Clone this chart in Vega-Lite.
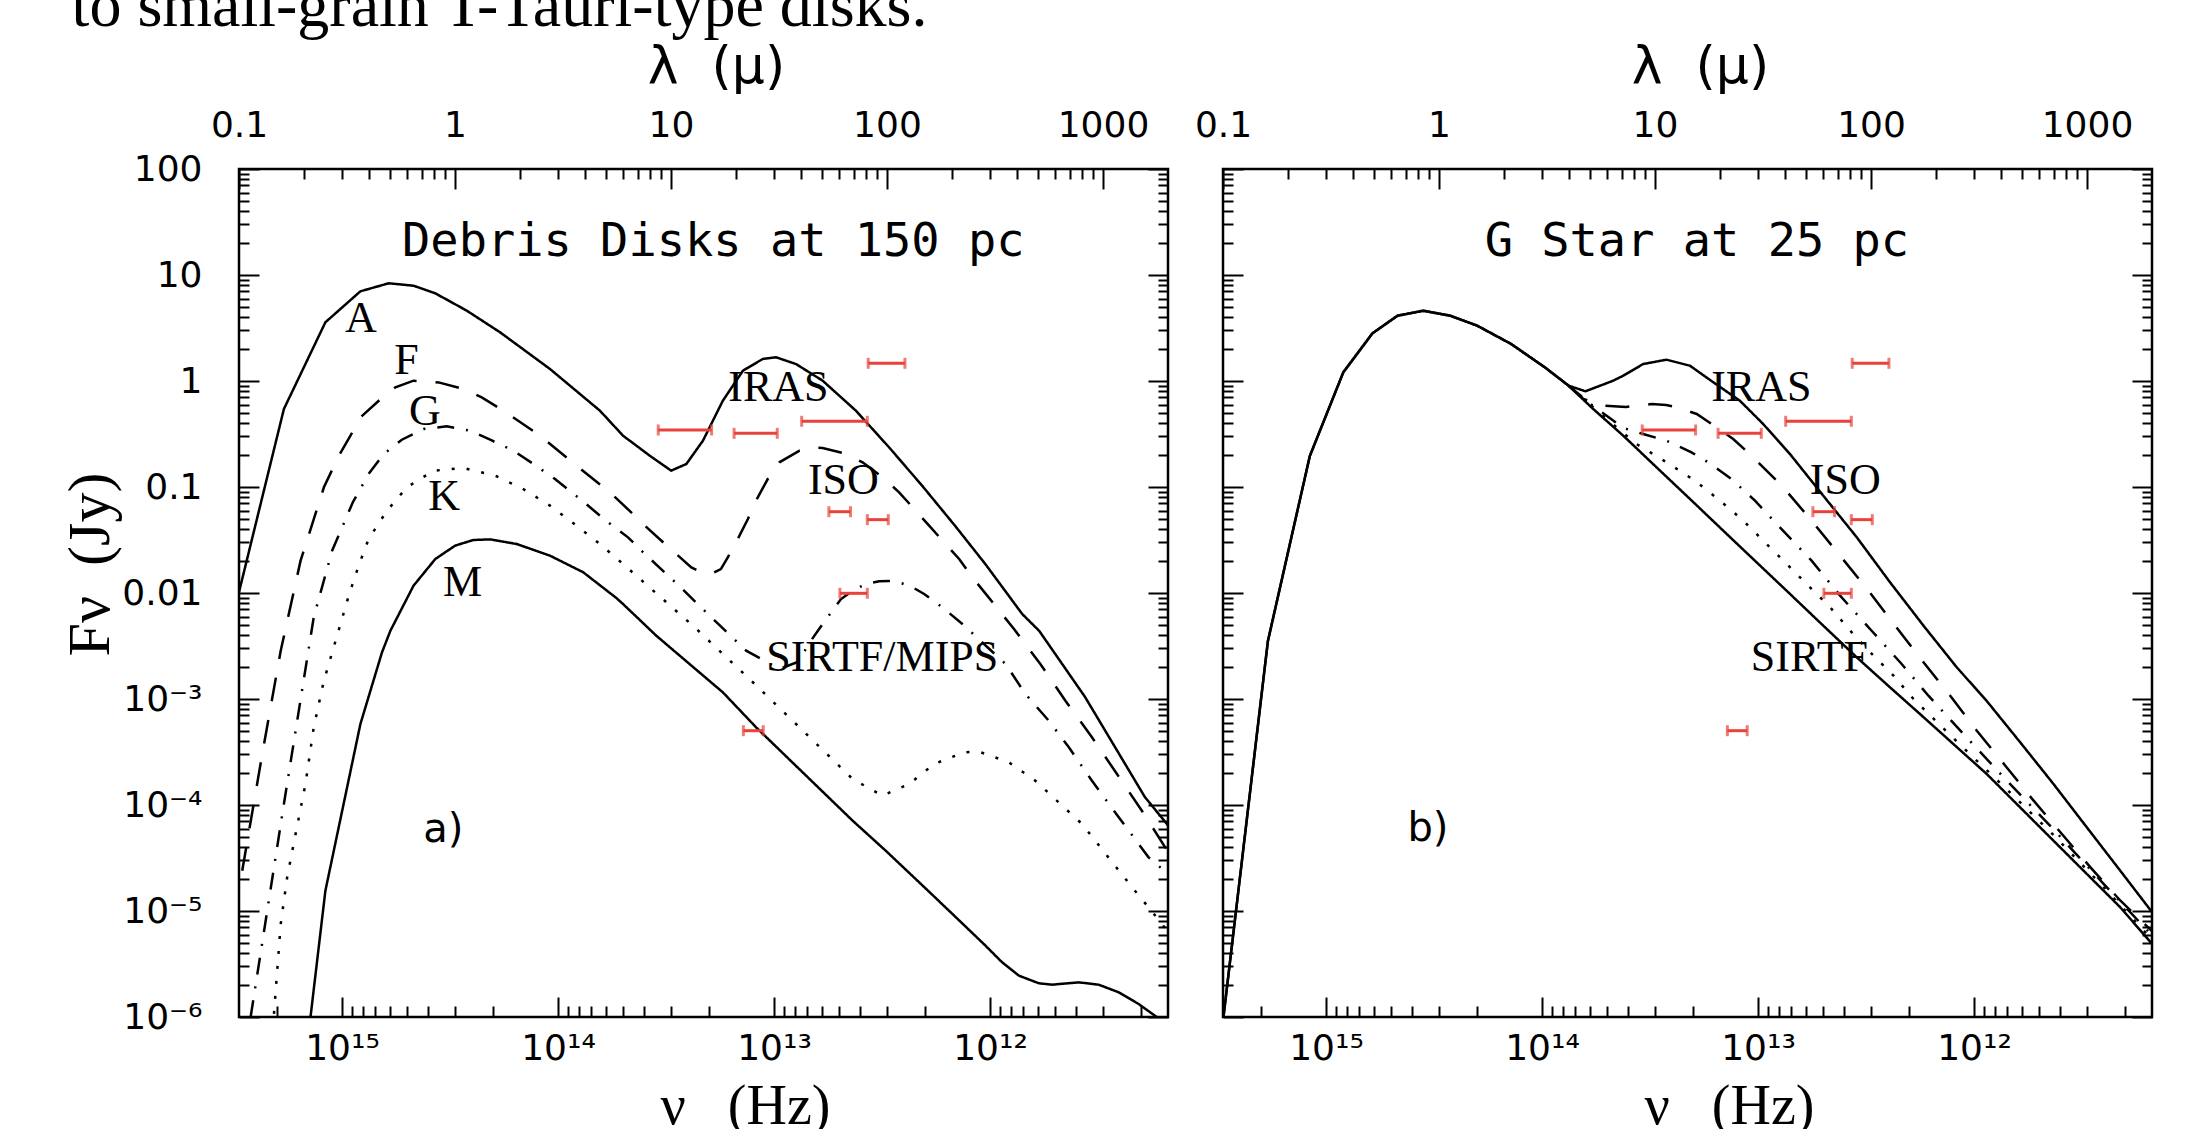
{
"$schema":"https://vega.github.io/schema/vega-lite/v6.json",
"background":"white",
"padding":{"left":59,"top":-26,"right":10,"bottom":0},
"title":{"text":"to small-grain T-Tauri-type disks.","anchor":"start","frame":"bounds","font":"Liberation Serif","fontSize":64,"fontWeight":"normal","color":"black","offset":0,"dx":12},
"datasets":{
"curves":[
{"p":"a","c":"A","s":"solid","lam":0.1,"flux":0.0102},{"p":"a","c":"A","s":"solid","lam":0.1614,"flux":0.5445},{"p":"a","c":"A","s":"solid","lam":0.2512,"flux":3.581},{"p":"a","c":"A","s":"solid","lam":0.3648,"flux":7.015},{"p":"a","c":"A","s":"solid","lam":0.4932,"flux":8.356},{"p":"a","c":"A","s":"solid","lam":0.6427,"flux":7.925},{"p":"a","c":"A","s":"solid","lam":0.811,"flux":6.714},{"p":"a","c":"A","s":"solid","lam":1.135,"flux":4.603},{"p":"a","c":"A","s":"solid","lam":1.618,"flux":2.877},{"p":"a","c":"A","s":"solid","lam":2.754,"flux":1.297},{"p":"a","c":"A","s":"solid","lam":4.688,"flux":0.5248},{"p":"a","c":"A","s":"solid","lam":5.998,"flux":0.3048},{"p":"a","c":"A","s":"solid","lam":7.98,"flux":0.1972},{"p":"a","c":"A","s":"solid","lam":10.02,"flux":0.1426},{"p":"a","c":"A","s":"solid","lam":11.78,"flux":0.1648},{"p":"a","c":"A","s":"solid","lam":14.06,"flux":0.2735},{"p":"a","c":"A","s":"solid","lam":17.38,"flux":0.6516},{"p":"a","c":"A","s":"solid","lam":21.53,"flux":1.25},{"p":"a","c":"A","s":"solid","lam":26.61,"flux":1.614},{"p":"a","c":"A","s":"solid","lam":30.62,"flux":1.675},{"p":"a","c":"A","s":"solid","lam":37.93,"flux":1.445},{"p":"a","c":"A","s":"solid","lam":50.35,"flux":1.007},{"p":"a","c":"A","s":"solid","lam":71.78,"flux":0.5248},{"p":"a","c":"A","s":"solid","lam":102.3,"flux":0.2366},{"p":"a","c":"A","s":"solid","lam":145.9,"flux":0.1021},{"p":"a","c":"A","s":"solid","lam":207,"flux":0.04285},{"p":"a","c":"A","s":"solid","lam":285.1,"flux":0.01879},{"p":"a","c":"A","s":"solid","lam":422.7,"flux":0.006339},{"p":"a","c":"A","s":"solid","lam":507,"flux":0.004385},{"p":"a","c":"A","s":"solid","lam":826,"flux":0.001045},{"p":"a","c":"A","s":"solid","lam":1563,"flux":1.189e-4},{"p":"a","c":"A","s":"solid","lam":1977,"flux":6.622e-5},{"p":"a","c":"A","s":"solid","lam":2000,"flux":6.37e-5},
{"p":"a","c":"F","s":"dashed","lam":0.1035,"flux":2.399e-5},{"p":"a","c":"F","s":"dashed","lam":0.1276,"flux":2.884e-4},{"p":"a","c":"F","s":"dashed","lam":0.156,"flux":2.858e-3},{"p":"a","c":"F","s":"dashed","lam":0.1928,"flux":0.02018},{"p":"a","c":"F","s":"dashed","lam":0.2472,"flux":0.09931},{"p":"a","c":"F","s":"dashed","lam":0.2897,"flux":0.1972},{"p":"a","c":"F","s":"dashed","lam":0.3281,"flux":0.3048},{"p":"a","c":"F","s":"dashed","lam":0.3648,"flux":0.4539},{"p":"a","c":"F","s":"dashed","lam":0.4436,"flux":0.6516},{"p":"a","c":"F","s":"dashed","lam":0.5297,"flux":0.873},{"p":"a","c":"F","s":"dashed","lam":0.6427,"flux":1.007},{"p":"a","c":"F","s":"dashed","lam":0.8395,"flux":0.9705},{"p":"a","c":"F","s":"dashed","lam":1.094,"flux":0.8414},{"p":"a","c":"F","s":"dashed","lam":1.33,"flux":0.7015},{"p":"a","c":"F","s":"dashed","lam":1.675,"flux":0.5248},{"p":"a","c":"F","s":"dashed","lam":2.477,"flux":0.3048},{"p":"a","c":"F","s":"dashed","lam":3.656,"flux":0.1589},{"p":"a","c":"F","s":"dashed","lam":5.212,"flux":0.08913},{"p":"a","c":"F","s":"dashed","lam":6.668,"flux":0.05559},{"p":"a","c":"F","s":"dashed","lam":7.278,"flux":0.04645},{"p":"a","c":"F","s":"dashed","lam":9.484,"flux":0.02838},{"p":"a","c":"F","s":"dashed","lam":12.42,"flux":0.01746},{"p":"a","c":"F","s":"dashed","lam":14.06,"flux":0.01545},{"p":"a","c":"F","s":"dashed","lam":15.35,"flux":0.0151},{"p":"a","c":"F","s":"dashed","lam":17.02,"flux":0.01683},{"p":"a","c":"F","s":"dashed","lam":18.32,"flux":0.02173},{"p":"a","c":"F","s":"dashed","lam":20.37,"flux":0.03228},{"p":"a","c":"F","s":"dashed","lam":22.7,"flux":0.04989},{"p":"a","c":"F","s":"dashed","lam":25.23,"flux":0.07998},{"p":"a","c":"F","s":"dashed","lam":28.05,"flux":0.1189},{"p":"a","c":"F","s":"dashed","lam":31.77,"flux":0.171},{"p":"a","c":"F","s":"dashed","lam":39.36,"flux":0.2203},{"p":"a","c":"F","s":"dashed","lam":44.36,"flux":0.236},{"p":"a","c":"F","s":"dashed","lam":50.35,"flux":0.2333},{"p":"a","c":"F","s":"dashed","lam":63.39,"flux":0.208},{"p":"a","c":"F","s":"dashed","lam":77.09,"flux":0.171},{"p":"a","c":"F","s":"dashed","lam":95.28,"flux":0.1236},{"p":"a","c":"F","s":"dashed","lam":113.8,"flux":0.08913},{"p":"a","c":"F","s":"dashed","lam":135.8,"flux":0.0597},{"p":"a","c":"F","s":"dashed","lam":156.7,"flux":0.04315},{"p":"a","c":"F","s":"dashed","lam":183.7,"flux":0.03006},{"p":"a","c":"F","s":"dashed","lam":215.8,"flux":0.02094},{"p":"a","c":"F","s":"dashed","lam":248.3,"flux":0.01406},{"p":"a","c":"F","s":"dashed","lam":291.1,"flux":9.441e-3},{"p":"a","c":"F","s":"dashed","lam":387.3,"flux":4.571e-3},{"p":"a","c":"F","s":"dashed","lam":512.9,"flux":2.138e-3},{"p":"a","c":"F","s":"dashed","lam":669.9,"flux":9.638e-4},{"p":"a","c":"F","s":"dashed","lam":889.2,"flux":4.355e-4},{"p":"a","c":"F","s":"dashed","lam":1161,"flux":1.959e-4},{"p":"a","c":"F","s":"dashed","lam":1514,"flux":8.831e-5},{"p":"a","c":"F","s":"dashed","lam":1941,"flux":3.99e-5},{"p":"a","c":"F","s":"dashed","lam":2000,"flux":3.66e-5},
{"p":"a","c":"G","s":"dashdot","lam":0.1132,"flux":1.0e-6},{"p":"a","c":"G","s":"dashdot","lam":0.1614,"flux":1.023e-4},{"p":"a","c":"G","s":"dashdot","lam":0.2218,"flux":5.902e-3},{"p":"a","c":"G","s":"dashdot","lam":0.2698,"flux":0.02506},{"p":"a","c":"G","s":"dashdot","lam":0.3365,"flux":0.07178},{"p":"a","c":"G","s":"dashdot","lam":0.3981,"flux":0.1327},{"p":"a","c":"G","s":"dashdot","lam":0.4677,"flux":0.2046},{"p":"a","c":"G","s":"dashdot","lam":0.5675,"flux":0.2793},{"p":"a","c":"G","s":"dashdot","lam":0.7145,"flux":0.3524},{"p":"a","c":"G","s":"dashdot","lam":0.9162,"flux":0.3733},{"p":"a","c":"G","s":"dashdot","lam":1.175,"flux":0.3396},{"p":"a","c":"G","s":"dashdot","lam":1.455,"flux":0.2793},{"p":"a","c":"G","s":"dashdot","lam":1.862,"flux":0.2203},{"p":"a","c":"G","s":"dashdot","lam":2.307,"flux":0.1648},{"p":"a","c":"G","s":"dashdot","lam":2.904,"flux":0.1189},{"p":"a","c":"G","s":"dashdot","lam":3.524,"flux":0.0871},{"p":"a","c":"G","s":"dashdot","lam":5.117,"flux":0.04645},{"p":"a","c":"G","s":"dashdot","lam":6.324,"flux":0.0335},{"p":"a","c":"G","s":"dashdot","lam":7.43,"flux":0.02421},{"p":"a","c":"G","s":"dashdot","lam":10.96,"flux":0.01156},{"p":"a","c":"G","s":"dashdot","lam":15.35,"flux":5.902e-3},{"p":"a","c":"G","s":"dashdot","lam":22.28,"flux":2.858e-3},{"p":"a","c":"G","s":"dashdot","lam":31.77,"flux":1.919e-3},{"p":"a","c":"G","s":"dashdot","lam":38.64,"flux":2.234e-3},{"p":"a","c":"G","s":"dashdot","lam":44.46,"flux":3.548e-3},{"p":"a","c":"G","s":"dashdot","lam":50.35,"flux":5.105e-3},{"p":"a","c":"G","s":"dashdot","lam":61.24,"flux":8.77e-3},{"p":"a","c":"G","s":"dashdot","lam":69.34,"flux":0.01052},{"p":"a","c":"G","s":"dashdot","lam":79.8,"flux":0.01216},{"p":"a","c":"G","s":"dashdot","lam":92.04,"flux":0.01288},{"p":"a","c":"G","s":"dashdot","lam":102.3,"flux":0.01297},{"p":"a","c":"G","s":"dashdot","lam":113.8,"flux":0.01262},{"p":"a","c":"G","s":"dashdot","lam":131.2,"flux":0.01132},{"p":"a","c":"G","s":"dashdot","lam":148.6,"flux":9.795e-3},{"p":"a","c":"G","s":"dashdot","lam":180.3,"flux":7.328e-3},{"p":"a","c":"G","s":"dashdot","lam":223.4,"flux":5.105e-3},{"p":"a","c":"G","s":"dashdot","lam":281.2,"flux":3.304e-3},{"p":"a","c":"G","s":"dashdot","lam":354,"flux":2.138e-3},{"p":"a","c":"G","s":"dashdot","lam":437.5,"flux":1.114e-3},{"p":"a","c":"G","s":"dashdot","lam":561,"flux":6.237e-4},{"p":"a","c":"G","s":"dashdot","lam":695,"flux":3.499e-4},{"p":"a","c":"G","s":"dashdot","lam":889.2,"flux":1.694e-4},{"p":"a","c":"G","s":"dashdot","lam":1183,"flux":7.656e-5},{"p":"a","c":"G","s":"dashdot","lam":1626,"flux":3.206e-5},{"p":"a","c":"G","s":"dashdot","lam":2000,"flux":2.24e-5},
{"p":"a","c":"K","s":"dotted","lam":0.1452,"flux":1.072e-6},{"p":"a","c":"K","s":"dotted","lam":0.156,"flux":7.534e-6},{"p":"a","c":"K","s":"dotted","lam":0.1671,"flux":2.08e-5},{"p":"a","c":"K","s":"dotted","lam":0.1828,"flux":5.321e-5},{"p":"a","c":"K","s":"dotted","lam":0.2032,"flux":1.585e-4},{"p":"a","c":"K","s":"dotted","lam":0.2218,"flux":5.408e-4},{"p":"a","c":"K","s":"dotted","lam":0.2472,"flux":1.489e-3},{"p":"a","c":"K","s":"dotted","lam":0.2951,"flux":5.105e-3},{"p":"a","c":"K","s":"dotted","lam":0.3221,"flux":9.441e-3},{"p":"a","c":"K","s":"dotted","lam":0.3581,"flux":0.01811},{"p":"a","c":"K","s":"dotted","lam":0.3981,"flux":0.03228},{"p":"a","c":"K","s":"dotted","lam":0.4842,"flux":0.0597},{"p":"a","c":"K","s":"dotted","lam":0.5984,"flux":0.09931},{"p":"a","c":"K","s":"dotted","lam":0.7962,"flux":0.1426},{"p":"a","c":"K","s":"dotted","lam":1.094,"flux":0.151},{"p":"a","c":"K","s":"dotted","lam":1.535,"flux":0.1279},{"p":"a","c":"K","s":"dotted","lam":2.07,"flux":0.09572},{"p":"a","c":"K","s":"dotted","lam":2.754,"flux":0.06668},{"p":"a","c":"K","s":"dotted","lam":3.656,"flux":0.04315},{"p":"a","c":"K","s":"dotted","lam":4.688,"flux":0.02897},{"p":"a","c":"K","s":"dotted","lam":5.998,"flux":0.01879},{"p":"a","c":"K","s":"dotted","lam":12.88,"flux":4.742e-3},{"p":"a","c":"K","s":"dotted","lam":23.93,"flux":1.439e-3},{"p":"a","c":"K","s":"dotted","lam":38.64,"flux":5.598e-4},{"p":"a","c":"K","s":"dotted","lam":69.34,"flux":1.758e-4},{"p":"a","c":"K","s":"dotted","lam":95.28,"flux":1.225e-4},{"p":"a","c":"K","s":"dotted","lam":126.8,"flux":1.578e-4},{"p":"a","c":"K","s":"dotted","lam":165.2,"flux":2.438e-4},{"p":"a","c":"K","s":"dotted","lam":227.5,"flux":3.141e-4},{"p":"a","c":"K","s":"dotted","lam":266.7,"flux":3.184e-4},{"p":"a","c":"K","s":"dotted","lam":366.4,"flux":2.529e-4},{"p":"a","c":"K","s":"dotted","lam":486.4,"flux":1.694e-4},{"p":"a","c":"K","s":"dotted","lam":623.7,"flux":1.059e-4},{"p":"a","c":"K","s":"dotted","lam":799.8,"flux":6.622e-5},{"p":"a","c":"K","s":"dotted","lam":972.8,"flux":3.99e-5},{"p":"a","c":"K","s":"dotted","lam":1202,"flux":2.317e-5},{"p":"a","c":"K","s":"dotted","lam":1486,"flux":1.346e-5},{"p":"a","c":"K","s":"dotted","lam":1652,"flux":1.045e-5},{"p":"a","c":"K","s":"dotted","lam":1954,"flux":6.761e-6},{"p":"a","c":"K","s":"dotted","lam":2000,"flux":6.2e-6},
{"p":"a","c":"M","s":"solid","lam":0.2143,"flux":1.0e-6},{"p":"a","c":"M","s":"solid","lam":0.2512,"flux":1.556e-5},{"p":"a","c":"M","s":"solid","lam":0.3648,"flux":5.808e-4},{"p":"a","c":"M","s":"solid","lam":0.4592,"flux":2.754e-3},{"p":"a","c":"M","s":"solid","lam":0.5023,"flux":4.406e-3},{"p":"a","c":"M","s":"solid","lam":0.6427,"flux":0.01172},{"p":"a","c":"M","s":"solid","lam":0.811,"flux":0.02094},{"p":"a","c":"M","s":"solid","lam":1.002,"flux":0.02799},{"p":"a","c":"M","s":"solid","lam":1.216,"flux":0.03162},{"p":"a","c":"M","s":"solid","lam":1.455,"flux":0.03206},{"p":"a","c":"M","s":"solid","lam":1.932,"flux":0.02897},{"p":"a","c":"M","s":"solid","lam":2.754,"flux":0.02249},{"p":"a","c":"M","s":"solid","lam":3.926,"flux":0.01567},{"p":"a","c":"M","s":"solid","lam":5.585,"flux":8.97e-3},{"p":"a","c":"M","s":"solid","lam":5.998,"flux":7.87e-3},{"p":"a","c":"M","s":"solid","lam":8.551,"flux":3.954e-3},{"p":"a","c":"M","s":"solid","lam":12.19,"flux":2.138e-3},{"p":"a","c":"M","s":"solid","lam":17.38,"flux":1.156e-3},{"p":"a","c":"M","s":"solid","lam":24.77,"flux":5.408e-4},{"p":"a","c":"M","s":"solid","lam":69.34,"flux":7.112e-5},{"p":"a","c":"M","s":"solid","lam":98.63,"flux":3.707e-5},{"p":"a","c":"M","s":"solid","lam":140.9,"flux":1.866e-5},{"p":"a","c":"M","s":"solid","lam":200.9,"flux":9.376e-6},{"p":"a","c":"M","s":"solid","lam":285.8,"flux":4.71e-6},{"p":"a","c":"M","s":"solid","lam":341.2,"flux":3.281e-6},{"p":"a","c":"M","s":"solid","lam":408.3,"flux":2.455e-6},{"p":"a","c":"M","s":"solid","lam":504.7,"flux":2.08e-6},{"p":"a","c":"M","s":"solid","lam":580.8,"flux":2.018e-6},{"p":"a","c":"M","s":"solid","lam":772.7,"flux":2.123e-6},{"p":"a","c":"M","s":"solid","lam":955,"flux":2.018e-6},{"p":"a","c":"M","s":"solid","lam":1183,"flux":1.71e-6},{"p":"a","c":"M","s":"solid","lam":1462,"flux":1.327e-6},{"p":"a","c":"M","s":"solid","lam":1774,"flux":1.0e-6},{"p":"a","c":"M","s":"solid","lam":2000,"flux":6.5e-7},
{"p":"b","c":"b1","s":"solid","lam":0.1005,"flux":1.0e-6},{"p":"b","c":"b1","s":"solid","lam":0.1614,"flux":3.524e-3},{"p":"b","c":"b1","s":"solid","lam":0.2523,"flux":0.1959},{"p":"b","c":"b1","s":"solid","lam":0.3606,"flux":1.208},{"p":"b","c":"b1","s":"solid","lam":0.492,"flux":2.818},{"p":"b","c":"b1","s":"solid","lam":0.6427,"flux":4.13},{"p":"b","c":"b1","s":"solid","lam":0.8453,"flux":4.603},{"p":"b","c":"b1","s":"solid","lam":1.127,"flux":4.13},{"p":"b","c":"b1","s":"solid","lam":1.503,"flux":3.327},{"p":"b","c":"b1","s":"solid","lam":2.158,"flux":2.234},{"p":"b","c":"b1","s":"solid","lam":3.09,"flux":1.346},{"p":"b","c":"b1","s":"solid","lam":3.981,"flux":0.9036},{"p":"b","c":"b1","s":"solid","lam":4.764,"flux":0.7998},{"p":"b","c":"b1","s":"solid","lam":6.353,"flux":1.0},{"p":"b","c":"b1","s":"solid","lam":7.129,"flux":1.122},{"p":"b","c":"b1","s":"solid","lam":8.81,"flux":1.445},{"p":"b","c":"b1","s":"solid","lam":11.3,"flux":1.589},{"p":"b","c":"b1","s":"solid","lam":14.52,"flux":1.393},{"p":"b","c":"b1","s":"solid","lam":18.62,"flux":0.9727},{"p":"b","c":"b1","s":"solid","lam":24.72,"flux":0.6516},{"p":"b","c":"b1","s":"solid","lam":31.7,"flux":0.3926},{"p":"b","c":"b1","s":"solid","lam":42.17,"flux":0.2046},{"p":"b","c":"b1","s":"solid","lam":60.12,"flux":0.08279},{"p":"b","c":"b1","s":"solid","lam":85.9,"flux":0.03357},{"p":"b","c":"b1","s":"solid","lam":122.5,"flux":0.01262},{"p":"b","c":"b1","s":"solid","lam":175,"flux":4.92e-3},{"p":"b","c":"b1","s":"solid","lam":249.5,"flux":1.991e-3},{"p":"b","c":"b1","s":"solid","lam":343.6,"flux":9.572e-4},{"p":"b","c":"b1","s":"solid","lam":490.9,"flux":3.899e-4},{"p":"b","c":"b1","s":"solid","lam":699.8,"flux":1.578e-4},{"p":"b","c":"b1","s":"solid","lam":997.7,"flux":6.166e-5},{"p":"b","c":"b1","s":"solid","lam":1426,"flux":2.399e-5},{"p":"b","c":"b1","s":"solid","lam":2000,"flux":9.77e-6},
{"p":"b","c":"b2","s":"dashed","lam":3.981,"flux":0.9036},{"p":"b","c":"b2","s":"dashed","lam":4.656,"flux":0.6761},{"p":"b","c":"b2","s":"dashed","lam":5.754,"flux":0.5875},{"p":"b","c":"b2","s":"dashed","lam":7.345,"flux":0.5689},{"p":"b","c":"b2","s":"dashed","lam":9.638,"flux":0.6067},{"p":"b","c":"b2","s":"dashed","lam":11.27,"flux":0.5943},{"p":"b","c":"b2","s":"dashed","lam":12.59,"flux":0.5649},{"p":"b","c":"b2","s":"dashed","lam":15.6,"flux":0.4887},{"p":"b","c":"b2","s":"dashed","lam":19.28,"flux":0.3656},{"p":"b","c":"b2","s":"dashed","lam":23.01,"flux":0.2838},{"p":"b","c":"b2","s":"dashed","lam":27.99,"flux":0.1972},{"p":"b","c":"b2","s":"dashed","lam":39.26,"flux":0.09931},{"p":"b","c":"b2","s":"dashed","lam":53.09,"flux":0.04808},{"p":"b","c":"b2","s":"dashed","lam":71.94,"flux":0.02249},{"p":"b","c":"b2","s":"dashed","lam":97.27,"flux":0.01052},{"p":"b","c":"b2","s":"dashed","lam":129.4,"flux":4.92e-3},{"p":"b","c":"b2","s":"dashed","lam":175,"flux":2.218e-3},{"p":"b","c":"b2","s":"dashed","lam":232.8,"flux":1.074e-3},{"p":"b","c":"b2","s":"dashed","lam":309,"flux":5.023e-4},{"p":"b","c":"b2","s":"dashed","lam":418.8,"flux":2.35e-4},{"p":"b","c":"b2","s":"dashed","lam":566.2,"flux":1.099e-4},{"p":"b","c":"b2","s":"dashed","lam":765.6,"flux":5.321e-5},{"p":"b","c":"b2","s":"dashed","lam":1038,"flux":2.582e-5},{"p":"b","c":"b2","s":"dashed","lam":1429,"flux":1.25e-5},{"p":"b","c":"b2","s":"dashed","lam":2000,"flux":6.46e-6},
{"p":"b","c":"b3","s":"dashdot","lam":3.981,"flux":0.9036},{"p":"b","c":"b3","s":"dashdot","lam":5.176,"flux":0.5808},{"p":"b","c":"b3","s":"dashdot","lam":7.129,"flux":0.3606},{"p":"b","c":"b3","s":"dashdot","lam":8.81,"flux":0.3162},{"p":"b","c":"b3","s":"dashdot","lam":11.3,"flux":0.2735},{"p":"b","c":"b3","s":"dashdot","lam":14.76,"flux":0.2123},{"p":"b","c":"b3","s":"dashdot","lam":17.62,"flux":0.171},{"p":"b","c":"b3","s":"dashdot","lam":22.59,"flux":0.1189},{"p":"b","c":"b3","s":"dashdot","lam":29.04,"flux":0.0743},{"p":"b","c":"b3","s":"dashdot","lam":37.24,"flux":0.04315},{"p":"b","c":"b3","s":"dashdot","lam":53.09,"flux":0.02018},{"p":"b","c":"b3","s":"dashdot","lam":71.94,"flux":9.441e-3},{"p":"b","c":"b3","s":"dashdot","lam":100.7,"flux":4.406e-3},{"p":"b","c":"b3","s":"dashdot","lam":138.7,"flux":2.138e-3},{"p":"b","c":"b3","s":"dashdot","lam":184.5,"flux":1.074e-3},{"p":"b","c":"b3","s":"dashdot","lam":267.9,"flux":4.677e-4},{"p":"b","c":"b3","s":"dashdot","lam":410.2,"flux":1.837e-4},{"p":"b","c":"b3","s":"dashdot","lam":699.8,"flux":5.888e-5},{"p":"b","c":"b3","s":"dashdot","lam":1194,"flux":1.799e-5},{"p":"b","c":"b3","s":"dashdot","lam":2000,"flux":5.89e-6},
{"p":"b","c":"b4","s":"dotted","lam":3.981,"flux":0.9036},{"p":"b","c":"b4","s":"dotted","lam":5.754,"flux":0.4677},{"p":"b","c":"b4","s":"dotted","lam":8.204,"flux":0.2547},{"p":"b","c":"b4","s":"dotted","lam":11.51,"flux":0.1675},{"p":"b","c":"b4","s":"dotted","lam":15.31,"flux":0.1146},{"p":"b","c":"b4","s":"dotted","lam":20,"flux":0.0743},{"p":"b","c":"b4","s":"dotted","lam":25.64,"flux":0.04808},{"p":"b","c":"b4","s":"dotted","lam":32.28,"flux":0.03006},{"p":"b","c":"b4","s":"dotted","lam":40.74,"flux":0.01879},{"p":"b","c":"b4","s":"dotted","lam":51.29,"flux":0.01172},{"p":"b","c":"b4","s":"dotted","lam":64.71,"flux":7.328e-3},{"p":"b","c":"b4","s":"dotted","lam":81.47,"flux":4.256e-3},{"p":"b","c":"b4","s":"dotted","lam":100.9,"flux":2.661e-3},{"p":"b","c":"b4","s":"dotted","lam":127.1,"flux":1.66e-3},{"p":"b","c":"b4","s":"dotted","lam":157.4,"flux":1.0e-3},{"p":"b","c":"b4","s":"dotted","lam":267.9,"flux":3.451e-4},{"p":"b","c":"b4","s":"dotted","lam":410.2,"flux":1.51e-4},{"p":"b","c":"b4","s":"dotted","lam":699.8,"flux":5.212e-5},{"p":"b","c":"b4","s":"dotted","lam":1194,"flux":1.679e-5},{"p":"b","c":"b4","s":"dotted","lam":2000,"flux":5.37e-6},
{"p":"b","c":"b5","s":"solid","lam":0.1005,"flux":1.0e-6},{"p":"b","c":"b5","s":"solid","lam":0.1614,"flux":3.524e-3},{"p":"b","c":"b5","s":"solid","lam":0.2523,"flux":0.1959},{"p":"b","c":"b5","s":"solid","lam":0.3606,"flux":1.208},{"p":"b","c":"b5","s":"solid","lam":0.492,"flux":2.818},{"p":"b","c":"b5","s":"solid","lam":0.6427,"flux":4.13},{"p":"b","c":"b5","s":"solid","lam":0.8453,"flux":4.603},{"p":"b","c":"b5","s":"solid","lam":1.127,"flux":4.13},{"p":"b","c":"b5","s":"solid","lam":1.503,"flux":3.327},{"p":"b","c":"b5","s":"solid","lam":2.158,"flux":2.234},{"p":"b","c":"b5","s":"solid","lam":3.09,"flux":1.346},{"p":"b","c":"b5","s":"solid","lam":3.981,"flux":0.9036},{"p":"b","c":"b5","s":"solid","lam":5.176,"flux":0.5445},{"p":"b","c":"b5","s":"solid","lam":7.129,"flux":0.3048},{"p":"b","c":"b5","s":"solid","lam":10.16,"flux":0.1535},{"p":"b","c":"b5","s":"solid","lam":14.52,"flux":0.07709},{"p":"b","c":"b5","s":"solid","lam":20.7,"flux":0.03873},{"p":"b","c":"b5","s":"solid","lam":29.51,"flux":0.0195},{"p":"b","c":"b5","s":"solid","lam":42.17,"flux":9.795e-3},{"p":"b","c":"b5","s":"solid","lam":60.12,"flux":4.92e-3},{"p":"b","c":"b5","s":"solid","lam":85.9,"flux":2.472e-3},{"p":"b","c":"b5","s":"solid","lam":122.5,"flux":1.288e-3},{"p":"b","c":"b5","s":"solid","lam":168.7,"flux":7.211e-4},{"p":"b","c":"b5","s":"solid","lam":343.6,"flux":1.959e-4},{"p":"b","c":"b5","s":"solid","lam":699.8,"flux":4.603e-5},{"p":"b","c":"b5","s":"solid","lam":1426,"flux":1.084e-5},{"p":"b","c":"b5","s":"solid","lam":2000,"flux":4.9e-6}
],
"bars":[
{"lo":81.85,"hi":121.1,"flux":1.469},{"lo":40.27,"hi":81.1,"flux":0.4169},{"lo":19.59,"hi":31.05,"flux":0.3206},{"lo":8.73,"hi":15.42,"flux":0.3451},{"lo":53.83,"hi":67.76,"flux":0.05848},{"lo":81.1,"hi":101.4,"flux":0.0492},{"lo":60.53,"hi":81.1,"flux":0.009931},{"lo":21.63,"hi":26.73,"flux":0.0005023}
],
"labels":[
{"p":"a","k":"title","t":"Debris Disks at 150 pc","lam":15.7,"flux":15.1},
{"p":"a","k":"curve","t":"A","lam":0.3664,"flux":2.877},
{"p":"a","k":"curve","t":"F","lam":0.597,"flux":1.164},
{"p":"a","k":"curve","t":"G","lam":0.7261,"flux":0.3873},
{"p":"a","k":"curve","t":"K","lam":0.8913,"flux":0.06067},
{"p":"a","k":"curve","t":"M","lam":1.084,"flux":0.009441},
{"p":"a","k":"curve","t":"IRAS","lam":31.41,"flux":0.6516},
{"p":"a","k":"curve","t":"ISO","lam":62.81,"flux":0.0859},
{"p":"a","k":"curve","t":"SIRTF/MIPS","lam":95.06,"flux":0.001849},
{"p":"a","k":"tag","t":"a)","lam":0.8831,"flux":4.477e-5},
{"p":"b","k":"title","t":"G Star at 25 pc","lam":15.63,"flux":15.1},
{"p":"b","k":"curve","t":"IRAS","lam":31.05,"flux":0.6516},
{"p":"b","k":"curve","t":"ISO","lam":76.03,"flux":0.0859},
{"p":"b","k":"curve","t":"SIRTF","lam":51.88,"flux":0.001849},
{"p":"b","k":"tag","t":"b)","lam":0.8892,"flux":4.571e-5}
]
},
"hconcat":[
{
"width":929,"height":848,
"resolve":{"axis":{"x":"independent","y":"independent"}},
"layer":[
{"data":{"name":"curves"},"transform":[{"filter":"datum.p=='a'"}],
"mark":{"type":"line","color":"black","strokeWidth":2.5,"clip":true},
"encoding":{
"x":{"field":"lam","type":"quantitative","scale":{"type":"log","domain":[0.1,2000],"nice":false},"axis":{"orient":"top","values":[0.1,1,10,100,1000],"ticks":false,"labelExpr":"datum.value < 0.5 ? '0.1' : format(datum.value, 'd')","labelPadding":25,"title":"λ\u00a0\u00a0(μ)","titleFont":"DejaVu Sans","titleFontSize":52,"titlePadding":14,"titleX":477}},
"y":{"field":"flux","type":"quantitative","scale":{"type":"log","domain":[1e-6,100],"nice":false},"axis":{"orient":"left","values":[1e-6,1e-5,1e-4,1e-3,0.01,0.1,1,10,100],"ticks":false,"labelExpr":"datum.value > 50 ? '100' : datum.value > 5 ? '10' : datum.value > 0.5 ? '1' : datum.value > 0.05 ? '0.1' : datum.value > 0.005 ? '0.01' : datum.value > 5e-4 ? '10⁻³' : datum.value > 5e-5 ? '10⁻⁴' : datum.value > 5e-6 ? '10⁻⁵' : '10⁻⁶'","labelPadding":37,"title":"Fν\u00a0\u00a0(Jy)","titleFont":"Liberation Serif","titleFontSize":60,"titlePadding":0,"titleY":395}},
"strokeDash":{"field":"s","type":"nominal","scale":{"domain":["solid","dashed","dashdot","dotted"],"range":[[1,0],[24,19],[17,12,2,12],[3,12]]},"legend":null},
"detail":{"field":"c","type":"nominal"}}},
{"data":{"name":"bars"},"mark":{"type":"rule","color":"#e8433a","strokeWidth":3},
"encoding":{"x":{"field":"lo","type":"quantitative","axis":null},"x2":{"field":"hi"},"y":{"field":"flux","type":"quantitative","axis":null}}},
{"data":{"name":"bars"},"mark":{"type":"tick","orient":"vertical","color":"#e8433a","thickness":3,"size":11},
"encoding":{"x":{"field":"lo","type":"quantitative","axis":null},"y":{"field":"flux","type":"quantitative","axis":null}}},
{"data":{"name":"bars"},"mark":{"type":"tick","orient":"vertical","color":"#e8433a","thickness":3,"size":11},
"encoding":{"x":{"field":"hi","type":"quantitative","axis":null},"y":{"field":"flux","type":"quantitative","axis":null}}},
{"data":{"name":"labels"},"transform":[{"filter":"datum.p=='a' && datum.k=='title'"}],"mark":{"type":"text","font":"DejaVu Sans Mono","fontSize":47,"align":"center","baseline":"alphabetic","color":"black"},
"encoding":{"x":{"field":"lam","type":"quantitative","axis":null},"y":{"field":"flux","type":"quantitative","axis":null},"text":{"field":"t"}}},
{"data":{"name":"labels"},"transform":[{"filter":"datum.p=='a' && datum.k=='curve'"}],"mark":{"type":"text","font":"Liberation Serif","fontSize":44,"align":"center","baseline":"alphabetic","color":"black"},
"encoding":{"x":{"field":"lam","type":"quantitative","axis":null},"y":{"field":"flux","type":"quantitative","axis":null},"text":{"field":"t"}}},
{"data":{"name":"labels"},"transform":[{"filter":"datum.p=='a' && datum.k=='tag'"}],"mark":{"type":"text","font":"DejaVu Sans","fontSize":40,"align":"center","baseline":"alphabetic","color":"black"},
"encoding":{"x":{"field":"lam","type":"quantitative","axis":null},"y":{"field":"flux","type":"quantitative","axis":null},"text":{"field":"t"}}},
{"data":{"values":[{"v":1}]},"mark":{"type":"point","opacity":0},
"encoding":{"x":{"field":"v","type":"quantitative","axis":{"orient":"top","values":[0.1,1,10,100,1000],"tickSize":-20,"labels":false,"title":null}},
"y":{"field":"v","type":"quantitative","axis":{"orient":"left","values":[1e-6,1e-5,1e-4,1e-3,0.01,0.1,1,10,100],"tickSize":-20,"labels":false,"title":null}}}},
{"data":{"values":[{"v":1}]},"mark":{"type":"point","opacity":0},
"encoding":{"x":{"field":"v","type":"quantitative","axis":{"orient":"top","values":[0.2,0.3,0.4,0.5,0.6,0.7,0.8,0.9,2,3,4,5,6,7,8,9,20,30,40,50,60,70,80,90,200,300,400,500,600,700,800,900],"tickSize":-10,"labels":false,"title":null}},
"y":{"field":"v","type":"quantitative","axis":{"orient":"left","values":[2e-6,3e-6,4e-6,5e-6,6e-6,7e-6,8e-6,9e-6,2e-5,3e-5,4e-5,5e-5,6e-5,7e-5,8e-5,9e-5,2e-4,3e-4,4e-4,5e-4,6e-4,7e-4,8e-4,9e-4,0.002,0.003,0.004,0.005,0.006,0.007,0.008,0.009,0.02,0.03,0.04,0.05,0.06,0.07,0.08,0.09,0.2,0.3,0.4,0.5,0.6,0.7,0.8,0.9,2,3,4,5,6,7,8,9,20,30,40,50,60,70,80,90],"tickSize":-10,"labels":false,"title":null}}}},
{"data":{"values":[{"v":1}]},"mark":{"type":"point","opacity":0},
"encoding":{"x":{"field":"v","type":"quantitative","axis":{"orient":"bottom","values":[0.2998,2.998,29.98,299.8],"ticks":false,"labelExpr":"datum.value < 1 ? '10¹⁵' : datum.value < 10 ? '10¹⁴' : datum.value < 100 ? '10¹³' : '10¹²'","labelPadding":14,"title":"ν\u00a0\u00a0\u00a0(Hz)","titleFont":"Liberation Serif","titleFontSize":56,"titlePadding":13,"titleX":506}},
"y":{"field":"v","type":"quantitative","axis":{"orient":"right","values":[1e-6,1e-5,1e-4,1e-3,0.01,0.1,1,10,100],"tickSize":-20,"labels":false,"title":null}}}},
{"data":{"values":[{"v":1}]},"mark":{"type":"point","opacity":0},
"encoding":{"x":{"field":"v","type":"quantitative","axis":{"orient":"bottom","values":[0.2998,2.998,29.98,299.8],"tickSize":-20,"labels":false,"title":null}},
"y":{"field":"v","type":"quantitative","axis":{"orient":"right","values":[2e-6,3e-6,4e-6,5e-6,6e-6,7e-6,8e-6,9e-6,2e-5,3e-5,4e-5,5e-5,6e-5,7e-5,8e-5,9e-5,2e-4,3e-4,4e-4,5e-4,6e-4,7e-4,8e-4,9e-4,0.002,0.003,0.004,0.005,0.006,0.007,0.008,0.009,0.02,0.03,0.04,0.05,0.06,0.07,0.08,0.09,0.2,0.3,0.4,0.5,0.6,0.7,0.8,0.9,2,3,4,5,6,7,8,9,20,30,40,50,60,70,80,90],"tickSize":-10,"labels":false,"title":null}}}},
{"data":{"values":[{"v":1}]},"mark":{"type":"point","opacity":0},
"encoding":{"x":{"field":"v","type":"quantitative","axis":{"orient":"bottom","values":[0.1499,1.499,0.9993,0.7495,0.5996,0.4997,0.4283,0.3748,0.3331,14.99,9.993,7.495,5.996,4.997,4.283,3.748,3.331,149.9,99.93,74.95,59.96,49.97,42.83,37.48,33.31,1499,999.3,749.5,599.6,499.7,428.3,374.8,333.1],"tickSize":-11,"labels":false,"title":null}}}}
]
},
{
"width":929,"height":848,
"resolve":{"axis":{"x":"independent","y":"independent"}},
"layer":[
{"data":{"name":"curves"},"transform":[{"filter":"datum.p=='b'"}],
"mark":{"type":"line","color":"black","strokeWidth":2.5,"clip":true},
"encoding":{
"x":{"field":"lam","type":"quantitative","scale":{"type":"log","domain":[0.1,2000],"nice":false},"axis":{"orient":"top","values":[0.1,1,10,100,1000],"ticks":false,"labelExpr":"datum.value < 0.5 ? '0.1' : format(datum.value, 'd')","labelPadding":25,"title":"λ\u00a0\u00a0(μ)","titleFont":"DejaVu Sans","titleFontSize":52,"titlePadding":14,"titleX":477}},
"y":{"field":"flux","type":"quantitative","scale":{"type":"log","domain":[1e-6,100],"nice":false},"axis":null},
"strokeDash":{"field":"s","type":"nominal","scale":{"domain":["solid","dashed","dashdot","dotted"],"range":[[1,0],[24,19],[17,12,2,12],[3,12]]},"legend":null},
"detail":{"field":"c","type":"nominal"}}},
{"data":{"name":"bars"},"mark":{"type":"rule","color":"#e8433a","strokeWidth":3},
"encoding":{"x":{"field":"lo","type":"quantitative","axis":null},"x2":{"field":"hi"},"y":{"field":"flux","type":"quantitative","axis":null}}},
{"data":{"name":"bars"},"mark":{"type":"tick","orient":"vertical","color":"#e8433a","thickness":3,"size":11},
"encoding":{"x":{"field":"lo","type":"quantitative","axis":null},"y":{"field":"flux","type":"quantitative","axis":null}}},
{"data":{"name":"bars"},"mark":{"type":"tick","orient":"vertical","color":"#e8433a","thickness":3,"size":11},
"encoding":{"x":{"field":"hi","type":"quantitative","axis":null},"y":{"field":"flux","type":"quantitative","axis":null}}},
{"data":{"name":"labels"},"transform":[{"filter":"datum.p=='b' && datum.k=='title'"}],"mark":{"type":"text","font":"DejaVu Sans Mono","fontSize":47,"align":"center","baseline":"alphabetic","color":"black"},
"encoding":{"x":{"field":"lam","type":"quantitative","axis":null},"y":{"field":"flux","type":"quantitative","axis":null},"text":{"field":"t"}}},
{"data":{"name":"labels"},"transform":[{"filter":"datum.p=='b' && datum.k=='curve'"}],"mark":{"type":"text","font":"Liberation Serif","fontSize":44,"align":"center","baseline":"alphabetic","color":"black"},
"encoding":{"x":{"field":"lam","type":"quantitative","axis":null},"y":{"field":"flux","type":"quantitative","axis":null},"text":{"field":"t"}}},
{"data":{"name":"labels"},"transform":[{"filter":"datum.p=='b' && datum.k=='tag'"}],"mark":{"type":"text","font":"DejaVu Sans","fontSize":40,"align":"center","baseline":"alphabetic","color":"black"},
"encoding":{"x":{"field":"lam","type":"quantitative","axis":null},"y":{"field":"flux","type":"quantitative","axis":null},"text":{"field":"t"}}},
{"data":{"values":[{"v":1}]},"mark":{"type":"point","opacity":0},
"encoding":{"x":{"field":"v","type":"quantitative","axis":{"orient":"top","values":[0.1,1,10,100,1000],"tickSize":-20,"labels":false,"title":null}},
"y":{"field":"v","type":"quantitative","axis":{"orient":"left","values":[1e-6,1e-5,1e-4,1e-3,0.01,0.1,1,10,100],"tickSize":-20,"labels":false,"title":null}}}},
{"data":{"values":[{"v":1}]},"mark":{"type":"point","opacity":0},
"encoding":{"x":{"field":"v","type":"quantitative","axis":{"orient":"top","values":[0.2,0.3,0.4,0.5,0.6,0.7,0.8,0.9,2,3,4,5,6,7,8,9,20,30,40,50,60,70,80,90,200,300,400,500,600,700,800,900],"tickSize":-10,"labels":false,"title":null}},
"y":{"field":"v","type":"quantitative","axis":{"orient":"left","values":[2e-6,3e-6,4e-6,5e-6,6e-6,7e-6,8e-6,9e-6,2e-5,3e-5,4e-5,5e-5,6e-5,7e-5,8e-5,9e-5,2e-4,3e-4,4e-4,5e-4,6e-4,7e-4,8e-4,9e-4,0.002,0.003,0.004,0.005,0.006,0.007,0.008,0.009,0.02,0.03,0.04,0.05,0.06,0.07,0.08,0.09,0.2,0.3,0.4,0.5,0.6,0.7,0.8,0.9,2,3,4,5,6,7,8,9,20,30,40,50,60,70,80,90],"tickSize":-10,"labels":false,"title":null}}}},
{"data":{"values":[{"v":1}]},"mark":{"type":"point","opacity":0},
"encoding":{"x":{"field":"v","type":"quantitative","axis":{"orient":"bottom","values":[0.2998,2.998,29.98,299.8],"ticks":false,"labelExpr":"datum.value < 1 ? '10¹⁵' : datum.value < 10 ? '10¹⁴' : datum.value < 100 ? '10¹³' : '10¹²'","labelPadding":14,"title":"ν\u00a0\u00a0\u00a0(Hz)","titleFont":"Liberation Serif","titleFontSize":56,"titlePadding":13,"titleX":506}},
"y":{"field":"v","type":"quantitative","axis":{"orient":"right","values":[1e-6,1e-5,1e-4,1e-3,0.01,0.1,1,10,100],"tickSize":-20,"labels":false,"title":null}}}},
{"data":{"values":[{"v":1}]},"mark":{"type":"point","opacity":0},
"encoding":{"x":{"field":"v","type":"quantitative","axis":{"orient":"bottom","values":[0.2998,2.998,29.98,299.8],"tickSize":-20,"labels":false,"title":null}},
"y":{"field":"v","type":"quantitative","axis":{"orient":"right","values":[2e-6,3e-6,4e-6,5e-6,6e-6,7e-6,8e-6,9e-6,2e-5,3e-5,4e-5,5e-5,6e-5,7e-5,8e-5,9e-5,2e-4,3e-4,4e-4,5e-4,6e-4,7e-4,8e-4,9e-4,0.002,0.003,0.004,0.005,0.006,0.007,0.008,0.009,0.02,0.03,0.04,0.05,0.06,0.07,0.08,0.09,0.2,0.3,0.4,0.5,0.6,0.7,0.8,0.9,2,3,4,5,6,7,8,9,20,30,40,50,60,70,80,90],"tickSize":-10,"labels":false,"title":null}}}},
{"data":{"values":[{"v":1}]},"mark":{"type":"point","opacity":0},
"encoding":{"x":{"field":"v","type":"quantitative","axis":{"orient":"bottom","values":[0.1499,1.499,0.9993,0.7495,0.5996,0.4997,0.4283,0.3748,0.3331,14.99,9.993,7.495,5.996,4.997,4.283,3.748,3.331,149.9,99.93,74.95,59.96,49.97,42.83,37.48,33.31,1499,999.3,749.5,599.6,499.7,428.3,374.8,333.1],"tickSize":-11,"labels":false,"title":null}}}}
]
}
],
"spacing":55,
"bounds":"flush",
"config":{
"view":{"stroke":"black","strokeWidth":2.5},
"axis":{"grid":false,"domain":false,"tickColor":"black","tickWidth":2,"labelColor":"black","titleColor":"black","labelFont":"DejaVu Sans","labelFontSize":36,"labelFlush":false,"labelOverlap":false,"labelBound":false,"titleFontWeight":"normal","labelFontWeight":"normal"}
}
}
